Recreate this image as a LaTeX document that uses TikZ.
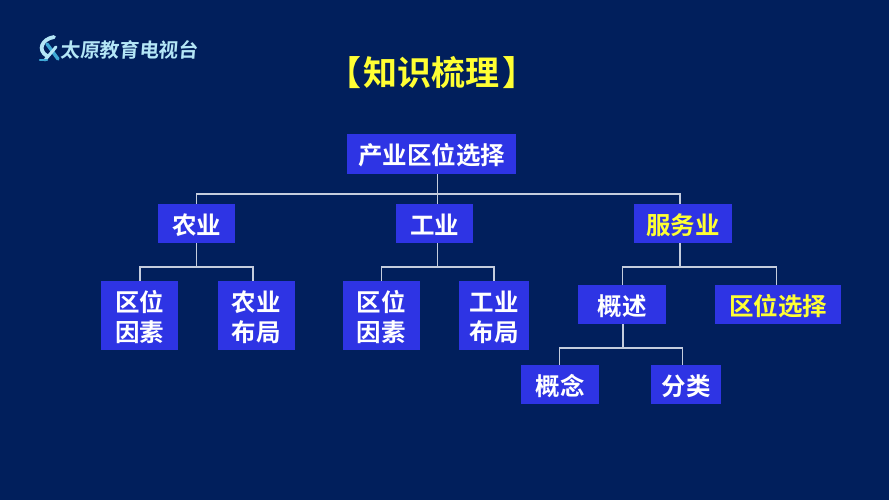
\documentclass[tikz,border=0pt]{standalone}
\usepackage{fontspec}
\setmainfont{Noto Sans CJK SC}[BoldFont={* Bold}]
\definecolor{bgc}{HTML}{011F5C}
\definecolor{boxc}{HTML}{2E34E4}
\definecolor{linec}{HTML}{C4CCDD}
\definecolor{yel}{HTML}{FFFF33}
\definecolor{logoc}{HTML}{B4E6F6}
\definecolor{logod}{HTML}{3FA9D6}
\tikzset{
  bx/.style={fill=boxc,draw=none,inner sep=0pt,text=white,font=\fontsize{24.5}{30}\selectfont\bfseries},
  ybx/.style={bx,text=yel},
  wire/.style={draw=linec,line width=1.1pt},
}
\newcommand{\tw}[1]{\raisebox{-4.5pt}[\height][\depth]{\begin{tabular}{@{}c@{}}#1\end{tabular}}}
\newcommand{\mybox}[7][bx]{% style, name, x0, y0, x1, y1, text
  \node[#1,minimum width=#5pt-#3pt,minimum height=#6pt-#4pt] (#2) at ({(#3+#5)/2},{(#4+#6)/2}) {\tw{#7}};}
\begin{document}
\begin{tikzpicture}[x=1pt,y=-1pt]
\useasboundingbox (0,0) rectangle (889,500);
\fill[bgc] (0,0) rectangle (889,500);
% logo
\draw[logoc,line width=3.8pt,line cap=round] (54,37) .. controls (42,39) and (37,50) .. (47,56);
\draw[logod,line width=3.4pt,line cap=round] (47,44) -- (58,59);
\draw[logoc,line width=3pt,line cap=round] (56,47) -- (45,60);
\draw[logod,line width=2.2pt,line cap=round] (40,60) -- (47,60);
\node[text=logoc,font=\fontsize{19.6}{20}\selectfont\bfseries,inner sep=0pt,xslant=0.08,transform shape] (logo) at (130,49.5) {太原教育电视台};
% title
\node[text=yel,font=\fontsize{34}{36}\selectfont\bfseries,inner sep=0pt] (title) at (431.5,73) {【\hspace{2.5pt}知识梳理\hspace{2.5pt}】};
% boxes
\mybox{root}{347}{134}{516}{174}{产业区位选择}
\mybox{agri}{158}{204}{235}{243}{农业}
\mybox{indu}{396}{204}{473}{243}{工业}
\mybox[ybx]{serv}{634}{204}{732}{243}{服务业}
\mybox{af}{101}{281}{178}{350}{区位\\[0pt]因素}
\mybox{al}{217.5}{281}{294.5}{350}{农业\\[0pt]布局}
\mybox{if}{342.7}{281}{419.5}{350}{区位\\[0pt]因素}
\mybox{il}{459}{281}{529}{350}{工业\\[0pt]布局}
\mybox{ov}{578}{285}{666}{324}{概述}
\mybox[ybx]{sl}{715}{285}{841}{324}{区位选择}
\mybox{con}{521}{365}{599}{404}{概念}
\mybox{cat}{651}{365}{721}{404}{分类}
% junctions
\coordinate (j0) at (437.5,194);
\coordinate (j1) at (196.5,267);
\coordinate (j2) at (437.5,267);
\coordinate (j3) at (680,267);
\coordinate (j4) at (623,348);
% connectors
\draw[wire] (root.south -| j0) -- (j0);
\draw[wire] (agri.north) -- (agri.north |- j0) -- (j3 |- j0) -- (j3 |- serv.north);
\draw[wire] (j0) -- (j0 |- indu.north);
\draw[wire] (agri.south) -- (j1);
\draw[wire] (140,281) -- (140,267) -- (253,267) -- (253,281);
\draw[wire] (j2 |- indu.south) -- (j2);
\draw[wire] (if.north) -- (if.north |- j2) -- (494,267) -- (il.north);
\draw[wire] (j3 |- serv.south) -- (j3);
\draw[wire] (622.7,285) -- (622.7,267) -- (776.5,267) -- (776.5,285);
\draw[wire] (j4 |- ov.south) -- (j4);
\draw[wire] (559.5,365) -- (559.5,348) -- (682.5,348) -- (682.5,365);
\end{tikzpicture}
\end{document}
